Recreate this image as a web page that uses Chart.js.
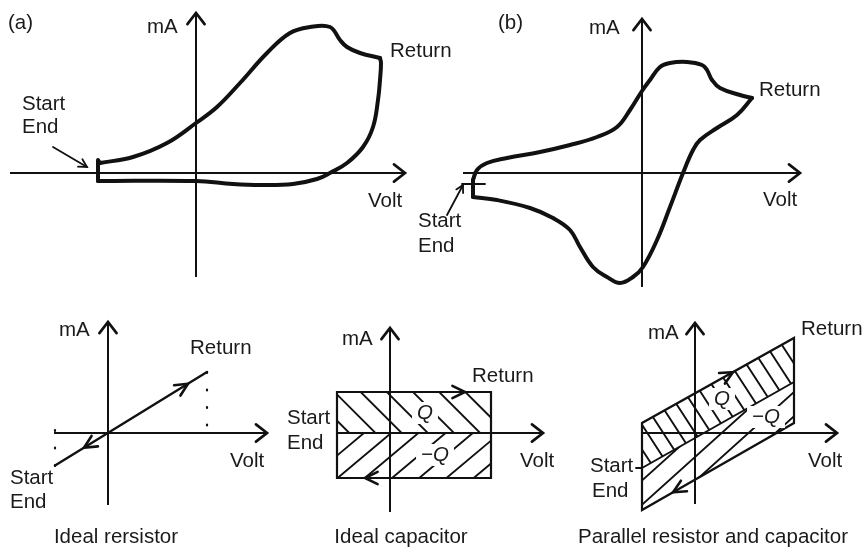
<!DOCTYPE html>
<html>
<head>
<meta charset="utf-8">
<script src="https://cdn.jsdelivr.net/npm/chart.js@4.4.1/dist/chart.umd.min.js"></script>
<style>
  html, body { margin: 0; padding: 0; background: #fff; }
  canvas { display: block; }
</style>
</head>
<body>
<canvas id="cv" width="865" height="547"></canvas>
<script>
// ---- Panel (a): voltammogram, current (mA) against potential (V) ----
const aForward = [[-1.92,0.20],[-1.26,0.32],[-0.58,0.60],[0,1.00],[0.42,1.32],[0.88,1.80],[1.42,2.40],[1.88,2.80],[2.28,2.92],[2.68,2.92],[2.88,2.66],[3.02,2.52],[3.28,2.40],[3.68,2.30]];
const aReverse = [[3.68,2.30],[3.70,2.20],[3.68,1.86],[3.64,1.46],[3.54,0.92],[3.34,0.52],[3.02,0.20],[2.68,0],[2.42,-0.12],[1.94,-0.22],[1.28,-0.24],[0.74,-0.22],[0,-0.16],[-1.96,-0.16]];
const aStartEdge = [[-1.96,-0.16],[-1.96,0.26],[-1.92,0.20]];
const aPointer = [[-2.86,0.52],[-2.18,0.12]];

// ---- Panel (b): voltammogram with redox peaks ----
const bStartEdge = [[-3.38,-0.48],[-3.38,-0.14]];
const bForward = [[-3.38,-0.14],[-3.30,0.06],[-3.10,0.20],[-2.70,0.30],[-2.04,0.42],[-1.44,0.56],[-0.90,0.72],[-0.50,0.92],[-0.24,1.26],[0,1.64],[0.16,1.86],[0.36,2.12],[0.56,2.20],[0.90,2.22],[1.20,2.16],[1.30,2.06],[1.40,1.86],[1.56,1.70],[1.96,1.56],[2.20,1.50]];
const bReverse = [[2.20,1.50],[1.90,1.16],[1.50,0.90],[1.16,0.66],[1.02,0.46],[0.82,0],[0.56,-0.68],[0.30,-1.34],[0.02,-1.88],[-0.18,-2.08],[-0.44,-2.20],[-0.70,-2.08],[-0.98,-1.88],[-1.24,-1.48],[-1.44,-1.14],[-1.78,-0.90],[-2.24,-0.70],[-2.90,-0.54],[-3.38,-0.48]];
const bStartMark = [[-3.60,-0.22],[-3.14,-0.22]];
const bPointer = [[-3.90,-0.84],[-3.58,-0.24]];

// ---- Ideal resistor: I = V / R ----
const cResistor = [[-1.06,-0.65],[1.98,1.22]];
const cDropReturn = [[1.98,1.22],[1.98,-0.12]];
const cDropStart = [[-1.06,0.06],[-1.06,-0.98]];

// ---- Ideal capacitor: constant charging / discharging current ----
const dV = [-1.06, 2.02];        // sweep limits
const dI = [0.82, -0.90];        // charging, discharging current

// ---- Parallel resistor and capacitor ----
const eResistive = [[-1.06,-0.70],[1.98,1.02]];
const eCharge    = [[-1.06,0.20],[1.98,1.90]];
const eDischarge = [[-1.06,-1.54],[1.98,0.20]];
const eStartMark = [[-1.18,-0.70],[-1.06,-0.70]];

// Axis extents per panel [vMin, vMax, iMin, iMax]
const axisA = [-3.72, 4.18, -2.08, 3.20];
const axisB = [-3.58, 3.16, -2.28, 3.08];
const axisC = [-1.08, 3.18, -1.44, 2.22];
const axisD = [-1.06, 3.06, -1.58, 2.10];
const axisE = [-1.04, 2.84, -1.42, 2.20];

// ---------------------------------------------------------------
const W = 865, H = 547, K = 50;            // canvas size, px per unit
const origins = { A:[196,173], B:[642,173], C:[108,433], D:[390,433], E:[695,433] };
const INK = '#111';

function pts(arr) { return arr.map(([x, y]) => ({ x, y })); }
function line(panel, arr, extra) {
  return Object.assign({
    data: pts(arr), xAxisID: 'x' + panel, yAxisID: 'y' + panel,
    showLine: true, pointRadius: 0, borderColor: INK, borderWidth: 2,
    fill: false, tension: 0, borderCapStyle: 'round', borderJoinStyle: 'round'
  }, extra || {});
}
function axes(panel, ext) {
  const head = { len: 14, half: 0.66, lw: 2.7 };
  return [
    line(panel, [[ext[0], 0], [ext[1], 0]], { arrowEnd: head, borderCapStyle: 'butt' }),
    line(panel, [[0, ext[2]], [0, ext[3]]], { arrowEnd: head, borderCapStyle: 'butt' })
  ];
}
const curve = { borderWidth: 4, tension: 0.4 };
const thick = { borderWidth: 4 };

const dUpper = [[dV[0],0],[dV[0],dI[0]],[dV[1],dI[0]],[dV[1],0]];
const dLower = [[dV[0],0],[dV[1],0],[dV[1],dI[1]],[dV[0],dI[1]]];
const dCycle = [[dV[0],0],[dV[0],dI[0]],[dV[1],dI[0]],[dV[1],dI[1]],[dV[0],dI[1]],[dV[0],0]];
const eUpper = [eCharge[0], eCharge[1], eResistive[1], eResistive[0]];
const eLower = [eResistive[0], eResistive[1], eDischarge[1], eDischarge[0]];
const eCycle = [eResistive[0], eCharge[0], eCharge[1], eDischarge[1], eDischarge[0], eResistive[0]];

const hatchStyle = { borderWidth: 0, borderColor: 'rgba(0,0,0,0)' };

const datasets = [
  ...axes('A', axisA),
  line('A', aForward, curve),
  line('A', aReverse, curve),
  line('A', aStartEdge, thick),
  line('A', aPointer, { borderWidth: 1.8, arrowEnd: { len: 9, half: 0.5, lw: 1.8 } }),

  ...axes('B', axisB),
  line('B', bStartEdge, thick),
  line('B', bForward, curve),
  line('B', bReverse, curve),
  line('B', bStartMark, { borderWidth: 1.8 }),
  line('B', bPointer, { borderWidth: 1.8, arrowEnd: { len: 8, half: 0.5, lw: 1.8 } }),

  ...axes('C', axisC),
  line('C', cResistor, { borderWidth: 2.4 }),
  line('C', cDropReturn, { borderWidth: 2.2, borderDash: [1, 16.5], borderCapStyle: 'round' }),
  line('C', cDropStart, { borderWidth: 2.2, borderDash: [1, 16.5], borderCapStyle: 'round' }),

  line('D', dUpper, Object.assign({ hatch: { angle: -45, gap: 18.5, through: [0.46, dI[0]] } }, hatchStyle)),
  line('D', dLower, Object.assign({ hatch: { angle: 40, gap: 17.5, through: [0.04, dI[1]] } }, hatchStyle)),
  ...axes('D', axisD),
  line('D', dCycle, { borderWidth: 2.2, borderJoinStyle: 'miter' }),

  line('E', eUpper, Object.assign({ hatch: { angle: -57, gap: 13.4, through: [0, 0.5] } }, hatchStyle)),
  line('E', eLower, Object.assign({ hatch: { angle: 42, gap: 18, through: [0.2, -0.3] } }, hatchStyle)),
  ...axes('E', axisE),
  line('E', eCycle, { borderWidth: 2.2, borderJoinStyle: 'miter' }),
  line('E', eResistive, { borderWidth: 2 }),
  line('E', eStartMark, { borderWidth: 1.8 })
];

// Direction marks along the current paths
const directionMarks = [
  { panel: 'C', tip: [1.60, 0.985], from: [0, 0] },
  { panel: 'C', tip: [-0.48, -0.295], from: [0, 0] },
  { panel: 'D', tip: [1.50, dI[0]], from: [0, dI[0]] },
  { panel: 'D', tip: [-0.50, dI[1]], from: [1, dI[1]] },
  { panel: 'E', tip: [0.76, 1.217], from: eCharge[0] },
  { panel: 'E', tip: [-0.44, -1.185], from: eDischarge[1] }
];

// Text labels: [panel, text, x, y, align, style]
const labels = [
  ['A', '(a)', -3.76, 3.00, 'left'],
  ['A', 'mA', -0.98, 2.92, 'left'],
  ['A', 'Start', -3.48, 1.38, 'left'],
  ['A', 'End', -3.48, 0.92, 'left'],
  ['A', 'Return', 3.88, 2.44, 'left'],
  ['A', 'Volt', 3.44, -0.56, 'left'],

  ['B', '(b)', -2.88, 3.00, 'left'],
  ['B', 'mA', -1.06, 2.90, 'left'],
  ['B', 'Return', 2.34, 1.66, 'left'],
  ['B', 'Volt', 2.42, -0.54, 'left'],
  ['B', 'Start', -4.48, -0.96, 'left'],
  ['B', 'End', -4.48, -1.46, 'left'],

  ['C', 'mA', -0.98, 2.06, 'left'],
  ['C', 'Return', 1.64, 1.70, 'left'],
  ['C', 'Volt', 2.44, -0.56, 'left'],
  ['C', 'Start', -1.96, -0.90, 'left'],
  ['C', 'End', -1.96, -1.38, 'left'],
  ['C', 'Ideal rersistor', 0.16, -2.08, 'center'],

  ['D', 'mA', -0.96, 1.88, 'left'],
  ['D', 'Return', 1.64, 1.14, 'left'],
  ['D', 'Start', -2.06, 0.30, 'left'],
  ['D', 'End', -2.06, -0.20, 'left'],
  ['D', 'Volt', 2.60, -0.56, 'left'],
  ['D', 'Q', 0.70, 0.40, 'center', 'q'],
  ['D', '\u2212Q', 0.90, -0.44, 'center', 'q'],
  ['D', 'Ideal capacitor', 0.22, -2.08, 'center'],

  ['E', 'mA', -0.94, 2.00, 'left'],
  ['E', 'Return', 2.12, 2.08, 'left'],
  ['E', 'Volt', 2.26, -0.56, 'left'],
  ['E', 'Start', -2.10, -0.66, 'left'],
  ['E', 'End', -2.06, -1.16, 'left'],
  ['E', 'Q', 0.54, 0.68, 'center', 'q'],
  ['E', '\u2212Q', 1.42, 0.32, 'center', 'q'],
  ['E', 'Parallel resistor and capacitor', 0.36, -2.08, 'center']
];

const FONT = '20.5px "Liberation Sans", Arial, Helvetica, sans-serif';
const QFONT = 'italic 20.5px "Liberation Sans", Arial, Helvetica, sans-serif';

function chevron(ctx, tip, from, len, half, lw) {
  const a = Math.atan2(tip.y - from.y, tip.x - from.x);
  ctx.beginPath();
  ctx.moveTo(tip.x - len * Math.cos(a - half), tip.y - len * Math.sin(a - half));
  ctx.lineTo(tip.x, tip.y);
  ctx.lineTo(tip.x - len * Math.cos(a + half), tip.y - len * Math.sin(a + half));
  ctx.lineWidth = lw;
  ctx.strokeStyle = INK;
  ctx.lineJoin = 'miter';
  ctx.lineCap = 'round';
  ctx.stroke();
}

function toPx(chart, panel, p) {
  return { x: chart.scales['x' + panel].getPixelForValue(p[0]),
           y: chart.scales['y' + panel].getPixelForValue(p[1]) };
}

const sketchPlugin = {
  id: 'sketch',
  beforeDatasetsDraw(chart) {
    const ctx = chart.ctx;
    chart.data.datasets.forEach((ds, i) => {
      if (!ds.hatch) return;
      const els = chart.getDatasetMeta(i).data;
      const panel = ds.xAxisID.slice(1);
      ctx.save();
      ctx.beginPath();
      els.forEach((p, j) => j ? ctx.lineTo(p.x, p.y) : ctx.moveTo(p.x, p.y));
      ctx.closePath();
      ctx.clip();
      const th = ds.hatch.angle * Math.PI / 180;
      const d = { x: Math.cos(th), y: -Math.sin(th) };
      const n = { x: -d.y, y: d.x };
      const ref = toPx(chart, panel, ds.hatch.through);
      const c0 = ref.x * n.x + ref.y * n.y;
      const cs = els.map(p => p.x * n.x + p.y * n.y);
      const cMin = Math.min(...cs), cMax = Math.max(...cs);
      const g = ds.hatch.gap;
      ctx.strokeStyle = INK;
      ctx.lineWidth = 1.9;
      ctx.beginPath();
      for (let c = c0 + Math.ceil((cMin - c0) / g) * g; c <= cMax; c += g) {
        const bx = n.x * c, by = n.y * c;
        ctx.moveTo(bx - d.x * 2000, by - d.y * 2000);
        ctx.lineTo(bx + d.x * 2000, by + d.y * 2000);
      }
      ctx.stroke();
      ctx.restore();
    });
  },
  afterDatasetsDraw(chart) {
    const ctx = chart.ctx;
    ctx.save();
    // arrowheads at the end of axes and pointers
    chart.data.datasets.forEach((ds, i) => {
      if (!ds.arrowEnd) return;
      const els = chart.getDatasetMeta(i).data;
      const tip = els[els.length - 1], from = els[els.length - 2];
      chevron(ctx, tip, from, ds.arrowEnd.len, ds.arrowEnd.half, ds.arrowEnd.lw);
    });
    // direction of travel along the cycles
    directionMarks.forEach(m => {
      chevron(ctx, toPx(chart, m.panel, m.tip), toPx(chart, m.panel, m.from), 14, 0.45, 2.6);
    });
    // text
    ctx.textBaseline = 'middle';
    labels.forEach(([panel, text, x, y, align, style]) => {
      const p = toPx(chart, panel, [x, y]);
      ctx.font = style === 'q' ? QFONT : FONT;
      ctx.textAlign = align;
      if (style === 'q') {
        const w = ctx.measureText(text).width;
        ctx.fillStyle = '#fff';
        ctx.fillRect(p.x - w / 2 - 5, p.y - 11, w + 10, 22);
      }
      ctx.fillStyle = '#1a1a1a';
      ctx.fillText(text, p.x, p.y);
    });
    ctx.restore();
  }
};

const scales = {
  x: { display: false }, y: { display: false }
};
Object.entries(origins).forEach(([panel, [ox, oy]]) => {
  scales['x' + panel] = { type: 'linear', display: false, min: -ox / K, max: (W - ox) / K };
  scales['y' + panel] = { type: 'linear', display: false, min: (oy - H) / K, max: oy / K };
});

new Chart(document.getElementById('cv'), {
  type: 'scatter',
  data: { datasets },
  options: {
    responsive: false,
    devicePixelRatio: 1,
    animation: false,
    events: [],
    layout: { padding: 0 },
    plugins: { legend: { display: false }, tooltip: { enabled: false } },
    scales
  },
  plugins: [sketchPlugin]
});
</script>
</body>
</html>
